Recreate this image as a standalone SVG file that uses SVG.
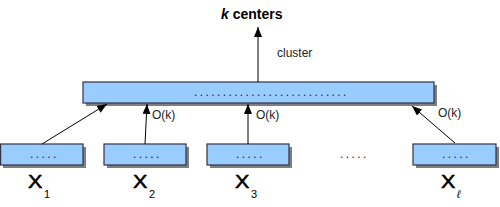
<svg xmlns="http://www.w3.org/2000/svg" width="500" height="207" viewBox="0 0 500 207">
<defs>
<marker id="ah" markerWidth="10" markerHeight="8" refX="10" refY="4" orient="auto" markerUnits="userSpaceOnUse">
<path d="M0,0 L10,4 L0,8 Z" fill="#000"/>
</marker>
<style>
.box{fill:#99ccff;stroke:#333344;stroke-width:1.2}
.sh{fill:#7f7f7f}
.dots{font-family:"Liberation Sans",Arial,sans-serif;font-size:12px;letter-spacing:2.4px;fill:#223}
.lbl{font-family:"Liberation Sans",Arial,sans-serif;font-size:12px;fill:#222}
.x{font-family:"Liberation Sans",Arial,sans-serif;font-size:18px;fill:#000;stroke:#000;stroke-width:0.5}
.sub{font-family:"Liberation Sans",Arial,sans-serif;font-size:11px;fill:#000}
.c{stroke:#000;stroke-width:1;fill:none;marker-end:url(#ah)}
</style>
</defs>
<rect width="500" height="207" fill="#fff"/>
<g id="title"><text x="221" y="19" font-family="Liberation Sans,Arial,sans-serif" font-size="14" font-weight="bold"><tspan font-style="italic">k</tspan> centers</text></g>
<g id="bar">
<rect class="sh" x="86" y="85" width="351" height="21"/>
<rect class="box" x="83" y="82" width="351" height="21"/>
<text class="dots" x="194" y="96" letter-spacing="2.1">...........................</text>
</g>
<g id="box1">
<rect class="sh" x="3" y="147" width="83" height="21"/>
<rect class="box" x="0.6" y="144" width="82.4" height="21"/>
<text class="dots" x="30" y="158">.....</text>
</g>
<g id="box2">
<rect class="sh" x="107" y="147" width="82" height="21"/>
<rect class="box" x="104" y="144" width="82" height="21"/>
<text class="dots" x="133" y="158">.....</text>
</g>
<g id="box3">
<rect class="sh" x="210" y="147" width="82" height="21"/>
<rect class="box" x="207" y="144" width="82" height="21"/>
<text class="dots" x="236" y="158">.....</text>
</g>
<g id="box4">
<rect class="sh" x="416" y="147" width="83" height="21"/>
<rect class="box" x="413" y="144" width="83" height="21"/>
<text class="dots" x="442" y="158">.....</text>
</g>
<g id="ellipsis"><text class="dots" x="340" y="158">.....</text></g>
<g id="labels">
<text class="x" transform="translate(28,188) scale(1.2,1)">X</text><text class="sub" x="44" y="198">1</text>
<text class="x" transform="translate(133,188) scale(1.2,1)">X</text><text class="sub" x="149" y="198">2</text>
<text class="x" transform="translate(235,188) scale(1.2,1)">X</text><text class="sub" x="251" y="198">3</text>
<text class="x" transform="translate(441,188) scale(1.2,1)">X</text><text class="sub" x="457" y="198" font-style="italic">ℓ</text>
</g>
<g id="connectors">
<line class="c" x1="258" y1="82" x2="258" y2="27"/>
<line class="c" x1="42" y1="144" x2="107" y2="104"/>
<line class="c" x1="145" y1="144" x2="147" y2="104"/>
<line class="c" x1="248" y1="144" x2="248" y2="104"/>
<line class="c" x1="455" y1="143" x2="412" y2="106"/>
<text class="lbl" x="277" y="57">cluster</text>
<text class="lbl" x="152" y="119">O(k)</text>
<text class="lbl" x="256" y="119">O(k)</text>
<text class="lbl" x="438" y="117">O(k)</text>
</g>
</svg>
